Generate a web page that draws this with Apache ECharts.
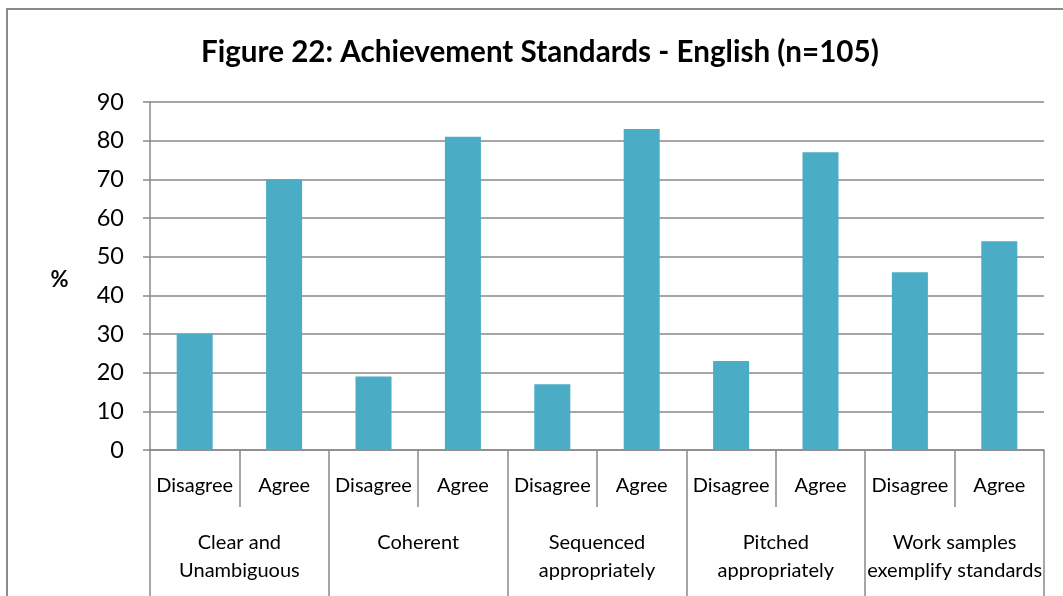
<!DOCTYPE html>
<html>
<head>
<meta charset="utf-8">
<script src="https://cdn.jsdelivr.net/npm/echarts@6/dist/echarts.min.js"></script>
<style>html,body{margin:0;padding:0;background:#fff}#c{width:1063px;height:596px}</style>
</head>
<body>
<div id="c"></div>
<script>
const titleText = 'Figure 22: Achievement Standards - English (n=105)';
const yAxisTitle = '%';
const groups = ['Clear and\nUnambiguous', 'Coherent', 'Sequenced\nappropriately', 'Pitched\nappropriately', 'Work samples\nexemplify standards'];
const responses = ['Disagree', 'Agree'];
const values = [30, 70, 19, 81, 17, 83, 23, 77, 46, 54];
const yTicks = [0, 10, 20, 30, 40, 50, 60, 70, 80, 90];

const innerCats = [];
groups.forEach(() => responses.forEach(r => innerCats.push(r)));

const FONT = 'Lato';
const gray = '#898989';
const chart = echarts.init(document.getElementById('c'), null, {renderer: 'canvas'});
chart.setOption({
  animation: false,
  textStyle: {fontFamily: FONT},
  title: {
    text: titleText, left: 196, top: 32,
    textStyle: {fontFamily: FONT, fontWeight: 'bold', fontSize: 29.6, color: '#000'}
  },
  graphic: [{
    type: 'rect', shape: {x: 7, y: 9, width: 1100, height: 650},
    style: {fill: 'none', stroke: '#8a8a8a', lineWidth: 2}, z: -1
  }, {
    type: 'text', x: 59.5, y: 280,
    style: {text: yAxisTitle, fontFamily: FONT, fontWeight: 'bold', fontSize: 22, fill: '#000', align: 'center', verticalAlign: 'middle'}
  }],
  grid: {left: 150, right: 19, top: 102, bottom: 146, containLabel: false},
  xAxis: [{
    type: 'category', data: innerCats, position: 'bottom',
    axisLine: {show: true, lineStyle: {color: gray, width: 1.5}},
    axisTick: {show: true, length: 57, interval: 0, lineStyle: {color: gray, width: 1.5}},
    axisLabel: {interval: 0, margin: 26, fontSize: 20, color: '#000', fontFamily: FONT},
    splitLine: {show: false}
  }, {
    type: 'category', data: groups, position: 'bottom',
    axisLine: {show: false},
    axisTick: {show: true, length: 160, interval: 0, lineStyle: {color: gray, width: 1.5}},
    axisLabel: {interval: 0, margin: 79, fontSize: 20, lineHeight: 28, color: '#000', fontFamily: FONT},
    splitLine: {show: false}
  }],
  yAxis: {
    type: 'value', min: yTicks[0], max: yTicks[yTicks.length - 1], interval: 10,
    axisLine: {show: true, lineStyle: {color: gray, width: 1.5}},
    axisTick: {show: true, length: 7, lineStyle: {color: gray, width: 1.5}},
    axisLabel: {fontSize: 23.5, color: '#000', margin: 26, fontFamily: FONT},
    splitLine: {show: true, lineStyle: {color: gray, width: 1.5}}
  },
  series: [{
    type: 'bar', xAxisIndex: 0, data: values, barWidth: 36,
    itemStyle: {color: '#4bacc6'}
  }]
});
</script>
</body>
</html>
